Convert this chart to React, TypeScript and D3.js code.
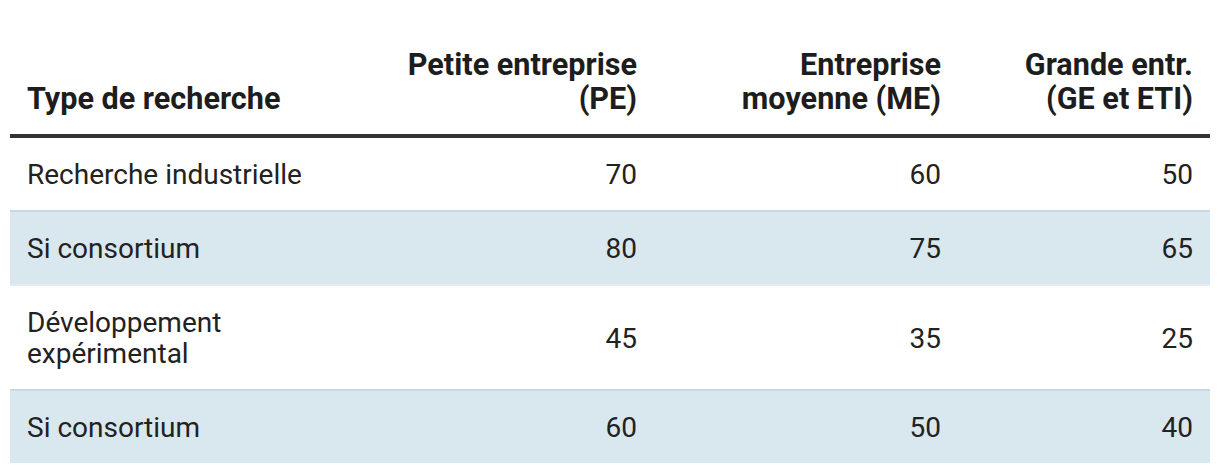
import React from 'react';
import * as d3 from 'd3';

// table content
const headers = ['Type de recherche', 'Petite entreprise\n(PE)', 'Entreprise\nmoyenne (ME)', 'Grande entr.\n(GE et ETI)'];
const rowLabels = ['Recherche industrielle', 'Si consortium', 'Développement\nexpérimental', 'Si consortium'];
const pe = [70, 80, 45, 60];
const me = [60, 75, 35, 50];
const ge = [50, 65, 25, 40];

const W = 1220;
const H = 474;
const left = 10;
const right = 1210;
const headerLine = 136; // center of the thick rule
const rowHeights = [72, 74, 105, 74];
const colRight = [637, 941, 1193];
const shade = '#d9e7ef';

function App() {
  const series = [pe, me, ge];
  const fmt = d3.format('d');

  // row tops from cumulative heights
  const tops = [138, ...d3.cumsum(rowHeights).map(h => 138 + h)];
  const rows = rowLabels.map((label, i) => ({
    label,
    y0: tops[i],
    y1: tops[i + 1],
    values: series.map(s => s[i]),
    shaded: i % 2 === 1,
  }));

  const font = 'Roboto, "Noto Sans", sans-serif';
  const lineH = 31;
  const headLineH = 34;
  const headBase = 109;

  return (
    <svg width={W} height={H} style={{ position: 'absolute', left: 0, top: 0, background: '#fff' }}
      fontFamily={font}>
      {/* header */}
      {headers.map((h, ci) => {
        const lines = h.split('\n');
        const x = ci === 0 ? 27 : colRight[ci - 1];
        return (
          <text key={ci} x={x} textAnchor={ci === 0 ? 'start' : 'end'}
            fontSize={30.6} fontWeight={700} fill="#1d1d1d">
            {lines.map((l, li) => (
              <tspan key={li} x={x} y={headBase - (lines.length - 1 - li) * headLineH}>{l}</tspan>
            ))}
          </text>
        );
      })}
      <line x1={left} x2={right} y1={headerLine} y2={headerLine} stroke="#333" strokeWidth={4} />

      {/* body rows */}
      {rows.map((r, i) => {
        const top = i === 0 ? r.y0 : r.y0 + 2;
        const mid = (top + r.y1) / 2;
        const lines = r.label.split('\n');
        return (
          <g key={i}>
            <rect x={left} y={r.y0} width={right - left} height={r.y1 - r.y0}
              fill={r.shaded ? shade : '#fff'} />
            {i > 0 && (
              <line x1={left} x2={right} y1={r.y0 + 1} y2={r.y0 + 1}
                stroke={r.shaded ? '#c9d9e3' : '#e6ebee'} strokeWidth={2} />
            )}
            <text x={27} fontSize={28} fill="#222">
              {lines.map((l, li) => (
                <tspan key={li} x={27}
                  y={mid + 10 + (li - (lines.length - 1) / 2) * lineH}>{l}</tspan>
              ))}
            </text>
            {r.values.map((v, ci) => (
              <text key={ci} x={colRight[ci]} y={mid + 10} textAnchor="end" fontSize={28} fill="#222">
                {fmt(v)}
              </text>
            ))}
          </g>
        );
      })}
    </svg>
  );
}

export default App;
